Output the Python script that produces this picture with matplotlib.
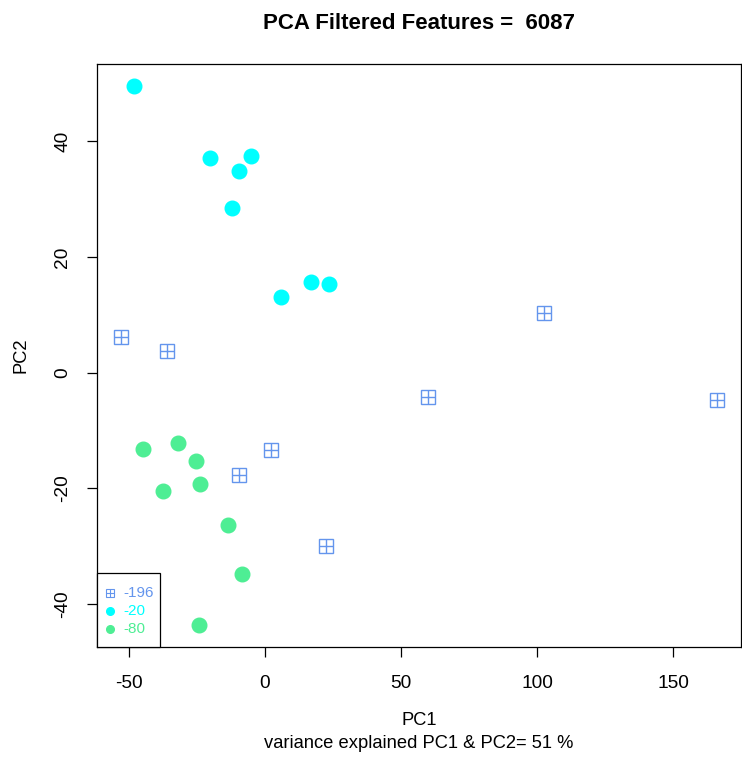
import matplotlib
matplotlib.use("Agg")
import matplotlib.pyplot as plt
from matplotlib.lines import Line2D
from matplotlib.patches import Rectangle

plt.rcParams['font.family'] = ['Liberation Sans', 'DejaVu Sans']
plt.rcParams['axes.unicode_minus'] = False

# PCA scores per group
g196_pc1 = [-52.9, -35.8, 59.9, 102.6, 166.1, 2.2, -9.5, 22.3]
g196_pc2 = [6.1, 3.8, -4.2, 10.3, -4.7, -13.4, -17.7, -29.9]

g20_pc1 = [-48.2, -20.1, -5.1, -9.5, -12.0, 5.8, 16.8, 23.7]
g20_pc2 = [49.6, 37.0, 37.4, 34.8, 28.5, 13.0, 15.7, 15.3]

g80_pc1 = [-44.9, -31.8, -25.2, -37.6, -23.7, -13.5, -8.4, -24.1]
g80_pc2 = [-13.2, -12.2, -15.3, -20.5, -19.3, -26.4, -34.8, -43.7]

group_labels = ["-196", "-20", "-80"]
group_colors = ["#6495ED", "#00FFFF", "#4EEE94"]

x_ticks = [-50, 0, 50, 100, 150]
y_ticks = [-40, -20, 0, 20, 40]

n_features = 6087
var_explained = 51

W, H = 742, 759
fig = plt.figure(figsize=(W / 100, H / 100), dpi=100)
ax = fig.add_axes([97 / W, 1 - 647 / H, 644 / W, 583 / H])

# square-with-cross markers
sq_size = 9.5
ax.plot(g196_pc1, g196_pc2, linestyle="none", marker="s", markersize=sq_size,
        markerfacecolor="none", markeredgecolor=group_colors[0], markeredgewidth=1.0)
ax.plot(g196_pc1, g196_pc2, linestyle="none", marker="+", markersize=sq_size,
        markeredgecolor=group_colors[0], markeredgewidth=1.0)

ax.plot(g20_pc1, g20_pc2, linestyle="none", marker="o", markersize=10.5,
        markerfacecolor=group_colors[1], markeredgecolor=group_colors[1])
ax.plot(g80_pc1, g80_pc2, linestyle="none", marker="o", markersize=10.5,
        markerfacecolor=group_colors[2], markeredgecolor=group_colors[2])

# R-style 4% padding
def padded(vals):
    lo, hi = min(vals), max(vals)
    d = (hi - lo) * 0.04
    return lo - d, hi + d

ax.set_xlim(*padded(g196_pc1 + g20_pc1 + g80_pc1))
ax.set_ylim(*padded(g196_pc2 + g20_pc2 + g80_pc2))

ax.set_xticks(x_ticks)
ax.set_yticks(y_ticks)
ax.tick_params(axis="both", direction="out", length=7.5, width=0.9, labelsize=13.8)
ax.tick_params(axis="x", pad=13)
ax.tick_params(axis="y", pad=11)
for lab in ax.get_yticklabels():
    lab.set_rotation(90)
    lab.set_va("center")
for s in ax.spines.values():
    s.set_linewidth(0.9)

ax.set_xlabel("PC1\nvariance explained PC1 & PC2= %d %%" % var_explained,
              fontsize=13.2, labelpad=14, linespacing=1.45)
ax.set_ylabel("PC2", fontsize=13.2, labelpad=18)
ax.set_title("PCA Filtered Features =  %d" % n_features, fontsize=16,
             fontweight="bold", pad=25)

# legend box in the lower-left corner of the plot region (pixel layout)
def fx(px):
    return px / W

def fy(py):
    return 1 - py / H

fig.add_artist(Rectangle((fx(97), fy(647)), 63 / W, 74 / H, transform=fig.transFigure,
                         facecolor="white", edgecolor="black", linewidth=0.9, zorder=5))
row_y = [593, 611, 629]
mk_x = 110
styles = [
    [dict(marker="s", markersize=5.5, markerfacecolor="none", markeredgewidth=0.8),
     dict(marker="+", markersize=5.5, markeredgewidth=0.8)],
    [dict(marker="o", markersize=5.5)],
    [dict(marker="o", markersize=5.5)],
]
for lab, col, y, sty in zip(group_labels, group_colors, row_y, styles):
    for s in sty:
        kw = dict(markeredgecolor=col)
        if "markerfacecolor" not in s:
            kw["markerfacecolor"] = col
        kw.update(s)
        fig.add_artist(Line2D([fx(mk_x)], [fy(y)], linestyle="none",
                              transform=fig.transFigure, zorder=6, **kw))
    fig.text(fx(123), fy(y), lab, color=col, fontsize=11, va="center", ha="left",
             zorder=6)

fig.savefig("out.png", dpi=100)
